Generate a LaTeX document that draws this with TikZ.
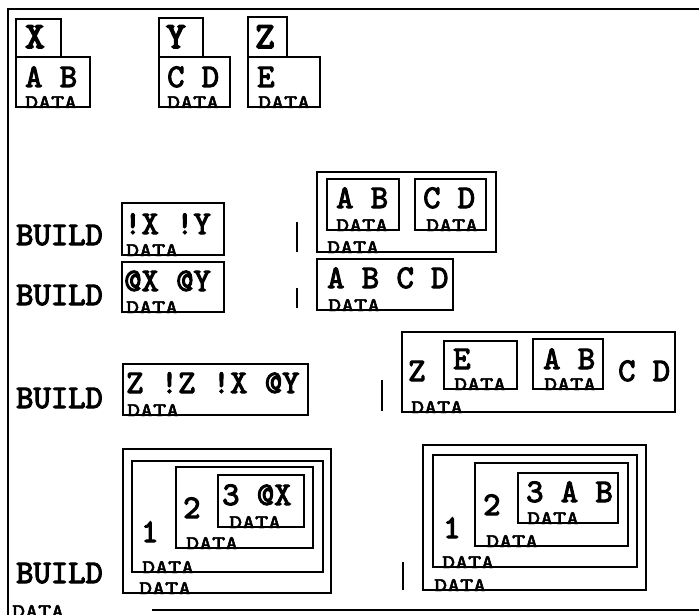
\documentclass[tikz,border=0pt]{standalone}
\usepackage{fontspec}
\newfontfamily\tw{lmmono10-regular.otf}[FakeBold=3.2]
\newfontfamily\twb{lmmono10-regular.otf}[FakeBold=4.2]
\newfontfamily\twd{lmmono10-regular.otf}[FakeBold=2.5]
\newcommand\dtext{\scalebox{1.3}[1]{DATA}}
\begin{document}
\begin{tikzpicture}[x=1pt,y=-1pt,
  bx/.style={draw, line width=1.4pt},
  frame/.style={draw, line width=1.8pt},
  bar/.style={draw, line width=1.4pt},
  txt/.style={anchor=base west, inner sep=0pt, font=\tw\fontsize{33}{33}\selectfont},
  nm/.style={anchor=base west, inner sep=0pt, font=\twb\fontsize{37}{37}\selectfont},
  dt/.style={anchor=base west, inner sep=0pt, font=\twd\fontsize{19}{19}\selectfont}]
\useasboundingbox (0,0) rectangle (699,615);
% outer frame
\coordinate (fTR) at (699,9);
\coordinate (fTL) at (8,9);
\coordinate (fBL) at (8,615);
\coordinate (bR) at (699,610);
\coordinate (bL) at (152,610);
\draw[frame] (fBL) -- (fTL) -- (fTR);
\draw[frame] (bL) -- (bR);
\node[dt] (dOuter) at (12,617) {\dtext};

% top row: X
\draw[bx] (16,19) rectangle (61,57);
\node[nm] (nX) at (25,48) {X};
\draw[bx] (16,57) rectangle (90,107);
\node[txt] (tX) at (25,87) {A B};
\node[dt] (dX) at (25,108) {\dtext};
% Y
\draw[bx] (159,18) rectangle (203,57);
\node[nm] (nY) at (166,48) {Y};
\draw[bx] (159,57) rectangle (230,107);
\node[txt] (tY) at (167,87) {C D};
\node[dt] (dY) at (167,108) {\dtext};
% Z
\draw[bx] (248,17) rectangle (287,57);
\node[nm] (nZ) at (255,48) {Z};
\draw[bx] (248,57) rectangle (320,107);
\node[txt] (tZ) at (257,87) {E};
\node[dt] (dZ) at (258,108) {\dtext};

% row 1
\node[txt] (b1) at (16,245) {BUILD};
\draw[bx] (122,203) rectangle (224,255);
\node[txt] (t1) at (124,234) {!X !Y};
\node[dt] (d1) at (126,256) {\dtext};
\draw[bar] (297,222) -- (297,252);
\draw[bx] (317,172) rectangle (496,252);
\draw[bx] (327,179) rectangle (399,230);
\node[txt] (r1a) at (336,208) {A B};
\node[dt] (r1ad) at (336,231) {\dtext};
\draw[bx] (415,179) rectangle (486,230);
\node[txt] (r1b) at (423,208) {C D};
\node[dt] (r1bd) at (426,231) {\dtext};
\node[dt] (r1d) at (327,253) {\dtext};

% row 2
\node[txt] (b2) at (16,305) {BUILD};
\draw[bx] (122,262) rectangle (224,312);
\node[txt] (t2) at (124,291) {@X @Y};
\node[dt] (d2) at (126,313) {\dtext};
\draw[bar] (297,288) -- (297,308);
\draw[bx] (317,259) rectangle (453,310);
\node[txt] (r2) at (327,288) {A B C D};
\node[dt] (r2d) at (328,311) {\dtext};

% row 3
\node[txt] (b3) at (16,408) {BUILD};
\draw[bx] (123,364) rectangle (308,415);
\node[txt] (t3) at (126,393) {Z !Z !X @Y};
\node[dt] (d3) at (127,416) {\dtext};
\draw[bar] (382,380) -- (382,411);
\draw[bx] (402,332) rectangle (675,412);
\node[txt] (r3z) at (408,381) {Z};
\draw[bx] (444,341) rectangle (517,389);
\node[txt] (r3e) at (453,369) {E};
\node[dt] (r3ed) at (454,390) {\dtext};
\draw[bx] (533,339) rectangle (603,389);
\node[txt] (r3ab) at (543,369) {A B};
\node[dt] (r3abd) at (544,390) {\dtext};
\node[txt] (r3cd) at (618,381) {C D};
\node[dt] (r3d) at (411,413) {\dtext};

% row 4 left
\node[txt] (b4) at (16,583) {BUILD};
\draw[bx] (123,449) rectangle (331,593);
\draw[bx] (132,461) rectangle (323,572);
\draw[bx] (176,467) rectangle (313,548);
\draw[bx] (218,475) rectangle (304,527);
\node[txt] (l1) at (141,542) {1};
\node[txt] (l2) at (183,518) {2};
\node[txt] (l3) at (222,505) {3 @X};
\node[dt] (l4d) at (229,528) {\dtext};
\node[dt] (l3d) at (186,549) {\dtext};
\node[dt] (l2d) at (142,573) {\dtext};
\node[dt] (l1d) at (139,594) {\dtext};

% row 4 right
\draw[bar] (403,562) -- (403,590);
\draw[bx] (423,445) rectangle (646,590);
\draw[bx] (433,455) rectangle (637,567);
\draw[bx] (475,463) rectangle (628,546);
\draw[bx] (518,473) rectangle (618,523);
\node[txt] (q1) at (443,538) {1};
\node[txt] (q2) at (483,515) {2};
\node[txt] (q3) at (526,502) {3 A B};
\node[dt] (q4d) at (527,524) {\dtext};
\node[dt] (q3d) at (486,547) {\dtext};
\node[dt] (q2d) at (442,568) {\dtext};
\node[dt] (q1d) at (434,591) {\dtext};
\end{tikzpicture}
\end{document}
